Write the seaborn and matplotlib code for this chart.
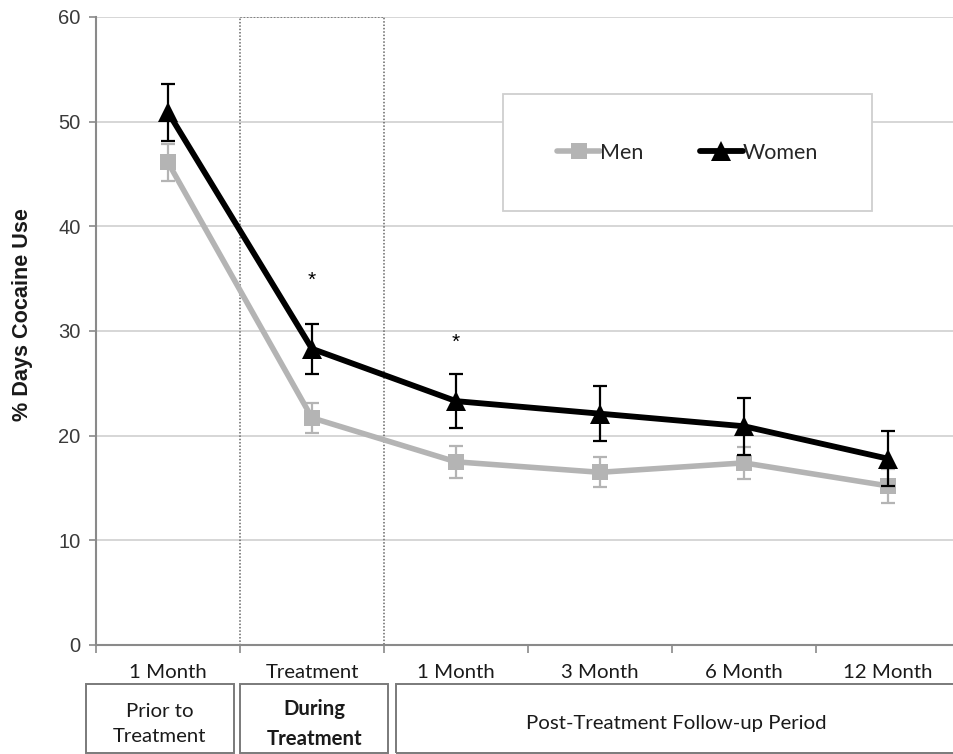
import pandas as pd
import matplotlib
matplotlib.use("Agg")
import matplotlib.pyplot as plt
import matplotlib.transforms as mtransforms
from matplotlib.patches import Rectangle
import seaborn as sns

# data
categories = ["1 Month", "Treatment", "1 Month", "3 Month", "6 Month", "12 Month"]
men = [46.1, 21.7, 17.5, 16.5, 17.4, 15.2]
men_err = [1.8, 1.4, 1.5, 1.45, 1.5, 1.6]
women = [50.9, 28.3, 23.3, 22.1, 20.9, 17.8]
women_err = [2.7, 2.4, 2.6, 2.65, 2.7, 2.6]
sig_pos = [1, 2]
sig_y = [34.8, 28.9]

periods = ["Prior to\nTreatment", "During\nTreatment", "Post-Treatment Follow-up Period"]

pos = list(range(len(categories)))
df_men = pd.DataFrame({"pos": pos, "pct": men})
df_women = pd.DataFrame({"pos": pos, "pct": women})

sns.set_theme(style="white")
plt.rcParams["font.family"] = ["Liberation Sans", "DejaVu Sans"]

MEN_C = "#b4b4b4"
AX_C = "#8a8a8a"

fig = plt.figure(figsize=(9.54, 7.54), dpi=100)
ax = fig.add_axes([96 / 954, 109 / 754, 864 / 954, 628 / 754])

# grid
for yv in range(10, 61, 10):
    ax.axhline(yv, color="#d6d6d6", lw=1.4, zorder=0)

# treatment period dotted box
ax.add_patch(Rectangle((0.5, 0), 1.0, 60, fill=False, ls=(0, (1, 1.2)),
                       lw=1.1, ec="#666666", zorder=1))

# error bars
ax.errorbar(pos, men, yerr=men_err, fmt="none", ecolor=MEN_C, elinewidth=1.6,
            capsize=5, capthick=1.6, zorder=3)
ax.errorbar(pos, women, yerr=women_err, fmt="none", ecolor="black", elinewidth=1.6,
            capsize=5, capthick=1.6, zorder=5)

sns.lineplot(data=df_men, x="pos", y="pct", ax=ax, color=MEN_C, lw=4.0,
             marker="s", markersize=12, markeredgewidth=0, label="Men", zorder=4)
sns.lineplot(data=df_women, x="pos", y="pct", ax=ax, color="black", lw=4.2,
             marker="^", markersize=14, markeredgewidth=0, label="Women", zorder=6)

for xp, yp in zip(sig_pos, sig_y):
    ax.text(xp, yp, "*", ha="center", va="center", fontsize=15, color="black")

ax.set_xlim(-0.5, len(categories) - 0.5)
ax.set_ylim(0, 60)
ax.set_yticks(range(0, 61, 10))
ax.tick_params(axis="y", labelsize=14.5, labelcolor="#3a3a3a", length=5,
               width=1.2, color=AX_C, direction="out", pad=6, left=True)
for lab in ax.get_yticklabels():
    lab.set_family(["Liberation Sans", "DejaVu Sans"])

ax.set_xticks([p - 0.5 for p in pos] + [len(categories) - 0.5])
ax.set_xticklabels([])
ax.set_xticks(pos, minor=True)
ax.set_xticklabels(categories, minor=True)
ax.tick_params(axis="x", which="major", length=6, width=1.2, color=AX_C,
               direction="out", bottom=True)
ax.tick_params(axis="x", which="minor", length=0, pad=14, labelsize=14.7,
               labelcolor="#1a1a1a", bottom=True)
for lab in ax.get_xticklabels(minor=True):
    lab.set_family(["Lato", "DejaVu Sans"])

ax.set_xlabel("")
ax.set_ylabel("")
for s in ["top", "right"]:
    ax.spines[s].set_visible(False)
for s in ["left", "bottom"]:
    ax.spines[s].set_color(AX_C)
    ax.spines[s].set_linewidth(1.5)

fig.text(23 / 954, 1 - 315 / 754, "% Days Cocaine Use", rotation=90,
         ha="center", va="center", fontsize=15.6, fontweight="bold",
         color="#1a1a1a")

# legend with its own box
ax.add_patch(Rectangle((0.471, 0.691), 0.427, 0.186, transform=ax.transAxes,
                       fc="white", ec="#cfcfcf", lw=1.3, zorder=7))
leg = ax.legend(loc="center", bbox_to_anchor=(0.685, 0.784), ncol=2,
                frameon=False, handlelength=2.0, handletextpad=0.0,
                columnspacing=2.6, prop={"family": ["Lato", "DejaVu Sans"], "size": 15.5})
leg.set_zorder(8)

# period boxes under the axis
trans = mtransforms.blended_transform_factory(ax.transData, fig.transFigure)
box_x = [(-0.57, 0.458), (0.5, 1.53), (1.58, 6.2)]
text_x = [-0.056, 1.015, 3.53]
box_y0, box_y1 = 1 - 753 / 754, 1 - 684 / 754
for (x0, x1), tx, txt, bold in zip(box_x, text_x, periods, [False, True, False]):
    ax.add_patch(Rectangle((x0, box_y0), x1 - x0, box_y1 - box_y0, transform=trans,
                           fill=False, ec="#7a7a7a", lw=1.4, clip_on=False))
    ax.text(tx, 1 - 724 / 754, txt, transform=trans, ha="center",
            va="center", fontsize=14.7, linespacing=1.6, color="#1a1a1a",
            fontweight="bold" if bold else "normal",
            family=["Lato", "DejaVu Sans"], clip_on=False)

fig.savefig("out.png", dpi=100)
